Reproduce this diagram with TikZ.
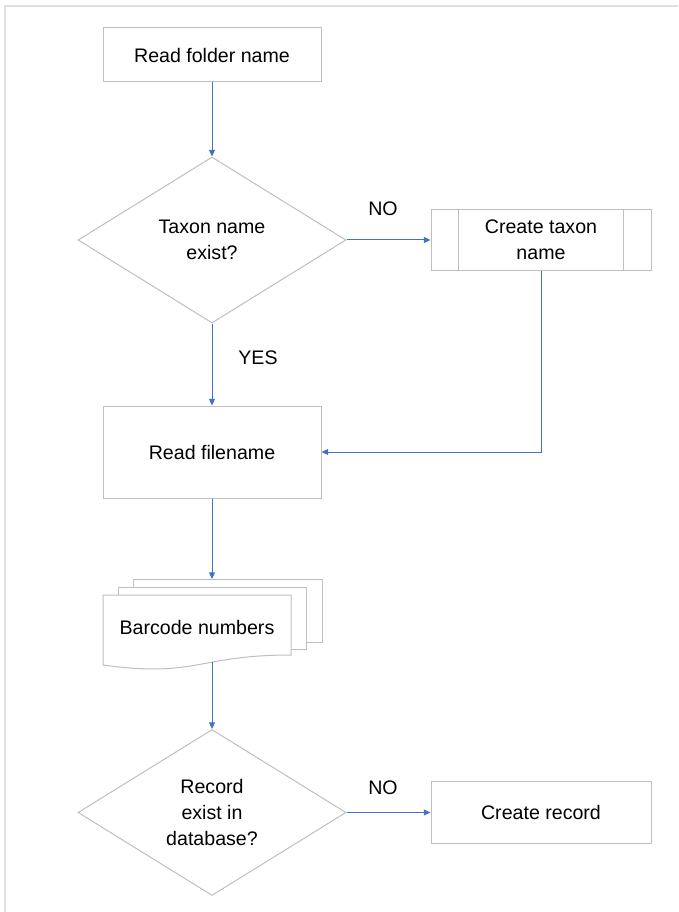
\documentclass[tikz,border=0pt]{standalone}
\usepackage{fontspec}
\setmainfont{Liberation Sans}
\usetikzlibrary{shapes.geometric, arrows.meta, positioning, calc}
\definecolor{flowblue}{HTML}{4472C4}
\definecolor{shapegray}{HTML}{BFBFBF}
\definecolor{framegray}{HTML}{E0E0E0}
\newcommand{\flowfont}{\fontsize{14.7}{19.5}\selectfont}

\begin{document}
\begin{tikzpicture}[
    x=0.75pt, y=-0.75pt,
    >={Triangle[length=5pt, width=4.5pt]},
    process/.style={rectangle, draw=shapegray, line width=0.75pt, fill=white,
                    minimum width=163.5pt, minimum height=40.5pt, align=center,
                    font=\flowfont},
    decision/.style={diamond, draw=shapegray, line width=0.75pt, fill=white,
                     minimum width=201pt, minimum height=124.5pt, inner sep=0pt,
                     align=center, font=\flowfont},
    flow/.style={->, draw=flowblue, line width=0.75pt},
    answer/.style={font=\flowfont, inner sep=0pt}
]
\useasboundingbox (0,0) rectangle (678,912);
\draw[framegray, line width=1.5pt] (5,912) -- (5,6) -- (678,6);

\node[process] (folder) at (212,55) {Read folder name};
\node[decision] (taxon) at (212,240) {Taxon name\\exist?};
\node[process, minimum width=165pt, minimum height=45.75pt] (newtaxon) at (541,240) {Create taxon\\name};
\foreach \side/\shift in {west/28, east/-28} {
    \draw[shapegray, line width=0.75pt] ($(newtaxon.north \side)+(\shift,0)$) -- ($(newtaxon.south \side)+(\shift,0)$);
}
\node[process, minimum height=69pt] (filename) at (212,452) {Read filename};

% stacked documents
\draw[shapegray, line width=0.75pt] (133,587) -- (133,579) -- (322,579) -- (322,642) -- (306,642);
\draw[shapegray, line width=0.75pt] (118,595) -- (118,587) -- (306,587) -- (306,649) -- (291,649);
\draw[shapegray, line width=0.75pt] (103,595) -- (291,595) -- (291,655)
    .. controls (197,655) and (197,678) .. (103,665) -- cycle;
\node[font=\flowfont] (barcode) at (197,627) {Barcode numbers};
\coordinate (docstop) at (212,579);
\coordinate (docsbottom) at (212,662);

\node[decision] (record) at (212,812.5) {Record\\exist in\\database?};
\node[process, minimum width=165pt, minimum height=46.5pt] (newrecord) at (541,812.5) {Create record};

\node[answer] (taxonno) at (383,209) {NO};
\node[answer] (taxonyes) at (258,358) {YES};
\node[answer] (recordno) at (383,788) {NO};

\draw[flow] (folder) -- (taxon);
\draw[flow] (taxon) -- (newtaxon);
\draw[flow] (newtaxon.south) |- (filename.east);
\draw[flow] (taxon) -- (filename);
\draw[flow] (filename) -- (docstop);
\draw[flow] (docsbottom) -- (record);
\draw[flow] (record) -- (newrecord);
\end{tikzpicture}
\end{document}
